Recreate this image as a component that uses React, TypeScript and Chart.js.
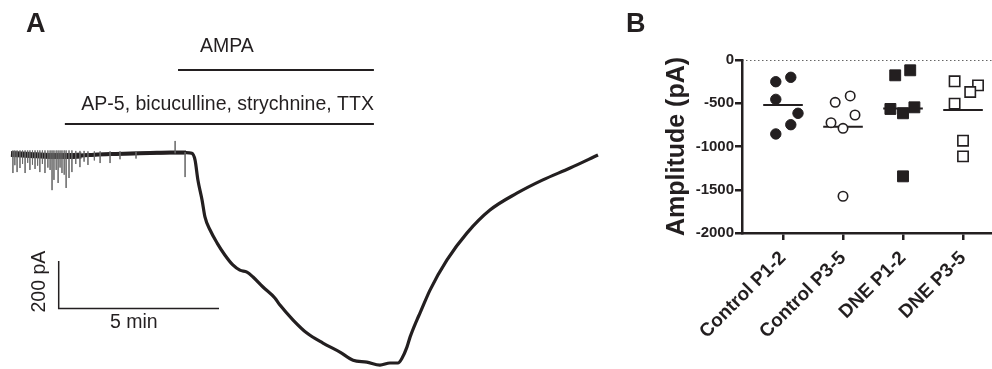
import React, { useEffect, useRef } from 'react';
import { Chart, registerables } from 'chart.js';

Chart.register(...registerables);

const INK = '#231f20';
const FONT = '"Liberation Sans", Arial, Helvetica, sans-serif';

// ---------- Panel A: current trace (time in min, current in pA) ----------
const traceTime = [0, 0.59, 1.22, 1.84, 2.46, 3.09, 3.71, 4.34, 4.96, 5.46, 5.64, 5.74, 5.83, 5.96, 6.05, 6.21, 6.43, 6.67, 6.92, 7.14, 7.36, 7.55, 7.86, 8.23, 8.39, 8.8, 9.23, 9.73, 10.26, 10.67, 11.1, 11.51, 11.82, 12.07, 12.2, 12.35, 12.45, 12.66, 12.76, 13.07, 13.6, 14.22, 14.94, 15.78, 16.59, 17.44, 18.31];
const traceCurrent = [-3, -7, -11, -11, -7, -3, -1, 1, 3, 3, 0, -28, -112, -197, -268, -323, -378, -428, -470, -492, -500, -521, -563, -609, -639, -702, -757, -799, -837, -871, -879, -892, -883, -883, -862, -816, -773, -702, -672, -576, -449, -336, -239, -168, -112, -62, -7];

// noisy baseline band (early part of the recording)
const bandTime = [0, 0.59, 1.22, 1.84, 2.2];
const bandCurrent = [-3, -7, -11, -11, -9];
const band2Time = [2.2, 2.46, 3.09, 3.71, 4.34, 4.96, 5.46];
const band2Current = [-9, -7, -3, -1, 1, 3, 3];

// individual noise deflections
const noiseTime = [0.06, 0.12, 0.19, 0.28, 0.36, 0.44, 0.52, 0.59, 0.67, 0.75, 0.83, 0.9, 0.98, 1.06, 1.15, 1.22, 1.28, 1.34, 1.41, 1.47, 1.53, 1.59, 1.66, 1.72, 1.81, 1.9, 2.02, 2.15, 2.28, 2.4, 2.6, 2.78, 3.09, 3.4, 3.9, 5.43, 5.12];
const noiseHigh = [12, 12, 12, 12, 12, 12, 12, 12, 12, 12, 12, 12, 12, 12, 12, 12, 12, 12, 12, 12, 12, 12, 12, 12, 12, 12, 10, 10, 10, 8, 8, 8, 8, 8, 8, 5, 52];
const noiseLow = [-83, -50, -79, -62, -45, -83, -40, -70, -48, -66, -52, -79, -45, -83, -60, -70, -155, -112, -70, -125, -60, -83, -90, -146, -104, -79, -45, -58, -35, -49, -30, -41, -41, -25, -22, -100, 0];

// drug application bars
const ampaStart = 5.21;
const ampaEnd = 11.32;
const ampaLevel = 351;
const drugStart = 1.68;
const drugEnd = 11.32;
const drugLevel = 123;
const ampaLabel = 'AMPA';
const drugLabel = 'AP-5, bicuculline, strychnine, TTX';

// scale bar
const scaleOriginTime = 1.488;
const scaleOriginCurrent = -653;
const scaleBarTime = 5; // min
const scaleBarCurrent = 200; // pA
const scaleTimeLabel = '5 min';
const scaleCurrentLabel = '200 pA';

// ---------- Panel B: amplitudes ----------
const categories = ['Control P1-2', 'Control P3-5', 'DNE P1-2', 'DNE P3-5'];
const controlP12 = [-200, -251, -455, -616, -748, -855];
const controlP12Jitter = [0.13, -0.12, -0.12, 0.25, 0.13, -0.12];
const controlP35 = [-416, -489, -636, -725, -790, -1575];
const controlP35Jitter = [0.12, -0.13, 0.2, -0.2, 0, 0];
const dneP12 = [-119, -177, -547, -566, -616, -1345];
const dneP12Jitter = [0.12, -0.13, 0.19, -0.21, 0, 0];
const dneP35 = [-246, -293, -370, -505, -933, -1114];
const dneP35Jitter = [-0.14, 0.25, 0.12, -0.14, 0, 0];
const yTicks = [0, -500, -1000, -1500, -2000];

const X_MIN = 0.3167;
const X_MAX = 4.483;
const MEAN_HALF = 0.33;

const mean = (a: number[]) => a.reduce((s, v) => s + v, 0) / a.length;

export default function App() {
  const aRef = useRef<HTMLCanvasElement | null>(null);
  const bRef = useRef<HTMLCanvasElement | null>(null);

  useEffect(() => {
    if (!aRef.current || !bRef.current) return;

    const trace = traceTime.map((t, i) => ({ x: t, y: traceCurrent[i] }));
    const band = bandTime.map((t, i) => ({ x: t, y: bandCurrent[i] }));
    const band2 = band2Time.map((t, i) => ({ x: t, y: band2Current[i] }));
    const noise: { x: number; y: number | null }[] = [];
    noiseTime.forEach((t, i) => {
      noise.push({ x: t, y: noiseHigh[i] }, { x: t, y: noiseLow[i] }, { x: t, y: null });
    });

    const textPluginA = {
      id: 'panelAText',
      afterDraw(chart: any) {
        const { ctx, scales } = chart;
        const x = scales.x;
        const y = scales.y;
        ctx.save();
        ctx.fillStyle = INK;
        ctx.font = `19.5px ${FONT}`;
        ctx.textBaseline = 'alphabetic';
        ctx.textAlign = 'left';
        ctx.fillText(ampaLabel, x.getPixelForValue(ampaStart) + 22, y.getPixelForValue(ampaLevel) - 18);
        ctx.textAlign = 'right';
        ctx.fillText(drugLabel, x.getPixelForValue(drugEnd), y.getPixelForValue(drugLevel) - 14);
        const x0 = x.getPixelForValue(scaleOriginTime);
        const x1 = x.getPixelForValue(scaleOriginTime + scaleBarTime);
        const y0 = y.getPixelForValue(scaleOriginCurrent);
        const y1 = y.getPixelForValue(scaleOriginCurrent + scaleBarCurrent);
        ctx.textAlign = 'center';
        ctx.fillText(scaleTimeLabel, (x0 + x1) / 2 - 5, y0 + 20);
        ctx.save();
        ctx.translate(x0 - 14, (y0 + y1) / 2 - 3);
        ctx.rotate(-Math.PI / 2);
        ctx.fillText(scaleCurrentLabel, 0, 0);
        ctx.restore();
        ctx.font = `bold 27px ${FONT}`;
        ctx.textAlign = 'left';
        ctx.fillText('A', 26, 32);
        ctx.restore();
      },
    };

    const chartA = new Chart(aRef.current, {
      type: 'line',
      data: {
        datasets: [
          {
            data: noise,
            borderColor: '#6a6a6a',
            borderWidth: 0.8,
            pointRadius: 0,
            spanGaps: false,
          },
          {
            data: trace,
            borderColor: INK,
            borderWidth: 3.2,
            pointRadius: 0,
            cubicInterpolationMode: 'monotone',
          },
          {
            data: band,
            borderColor: '#2a2627',
            borderWidth: 6,
            pointRadius: 0,
            cubicInterpolationMode: 'monotone',
          },
          {
            data: band2,
            borderColor: '#2a2627',
            borderWidth: 4,
            pointRadius: 0,
            cubicInterpolationMode: 'monotone',
          },
          {
            data: [{ x: ampaStart, y: ampaLevel }, { x: ampaEnd, y: ampaLevel }],
            borderColor: INK,
            borderWidth: 2,
            pointRadius: 0,
          },
          {
            data: [{ x: drugStart, y: drugLevel }, { x: drugEnd, y: drugLevel }],
            borderColor: INK,
            borderWidth: 2,
            pointRadius: 0,
          },
          {
            data: [
              { x: scaleOriginTime, y: scaleOriginCurrent + scaleBarCurrent },
              { x: scaleOriginTime, y: scaleOriginCurrent },
              { x: scaleOriginTime + scaleBarTime, y: scaleOriginCurrent },
            ],
            borderColor: INK,
            borderWidth: 1.5,
            pointRadius: 0,
            borderJoinStyle: 'miter',
          },
        ] as any,
      },
      options: {
        animation: false,
        responsive: false,
        maintainAspectRatio: false,
        layout: { padding: 0, autoPadding: false },
        plugins: { legend: { display: false }, tooltip: { enabled: false } },
        scales: {
          x: { type: 'linear', display: false, min: -0.343, max: 19.62 },
          y: { type: 'linear', display: false, min: -908.2, max: 645.5 },
        },
      },
      plugins: [textPluginA],
    });

    const groups = [
      { vals: controlP12, jit: controlP12Jitter, style: 'circle', fill: INK, r: 5.2, bw: 1 },
      { vals: controlP35, jit: controlP35Jitter, style: 'circle', fill: '#ffffff', r: 4.7, bw: 1.6 },
      { vals: dneP12, jit: dneP12Jitter, style: 'rect', fill: INK, r: 7.7, bw: 1 },
      { vals: dneP35, jit: dneP35Jitter, style: 'rect', fill: '#ffffff', r: 7.3, bw: 1.6 },
    ];

    const pointSets = groups.map((g, gi) => ({
      type: 'scatter',
      data: g.vals.map((v, i) => ({ x: gi + 1 + g.jit[i], y: v })),
      pointStyle: g.style,
      pointRadius: g.r,
      pointBackgroundColor: g.fill,
      pointBorderColor: INK,
      pointBorderWidth: g.bw,
      showLine: false,
      order: 0,
    }));

    const meanSets = groups.map((g, gi) => {
      const m = mean(g.vals);
      return {
        type: 'line',
        data: [
          { x: gi + 1 - MEAN_HALF, y: m },
          { x: gi + 1 + MEAN_HALF, y: m },
        ],
        borderColor: INK,
        borderWidth: 2,
        pointRadius: 0,
        order: 1,
      };
    });

    const zeroLine = {
      type: 'line',
      data: [
        { x: X_MIN, y: 0 },
        { x: X_MAX, y: 0 },
      ],
      borderColor: '#333',
      borderWidth: 1.5,
      borderDash: [1.5, 2.5],
      pointRadius: 0,
      order: 2,
    };

    const textPluginB = {
      id: 'panelBText',
      afterDraw(chart: any) {
        const { ctx } = chart;
        ctx.save();
        ctx.fillStyle = INK;
        ctx.font = `bold 27px ${FONT}`;
        ctx.textAlign = 'left';
        ctx.textBaseline = 'alphabetic';
        ctx.fillText('B', 26, 32);
        ctx.restore();
      },
    };

    const chartB = new Chart(bRef.current, {
      type: 'scatter',
      data: { datasets: [...pointSets, ...meanSets, zeroLine] as any },
      options: {
        animation: false,
        responsive: false,
        maintainAspectRatio: false,
        layout: { padding: { top: 60, right: 0, bottom: 0, left: 0 }, autoPadding: false },
        plugins: { legend: { display: false }, tooltip: { enabled: false } },
        scales: {
          x: {
            type: 'linear',
            min: X_MIN,
            max: X_MAX,
            afterBuildTicks: (s: any) => {
              s.ticks = categories.map((_, i) => ({ value: i + 1 }));
            },
            afterFit: (s: any) => {
              s.height = 136;
              s.paddingRight = 0;
            },
            ticks: {
              autoSkip: false,
              minRotation: 45,
              maxRotation: 45,
              padding: 7,
              color: INK,
              font: { family: FONT, size: 19, weight: 'bold' },
              callback: (v: any) => categories[Math.round(v) - 1] ?? '',
            },
            grid: { display: true, drawOnChartArea: false, drawTicks: true, tickLength: 7, lineWidth: 2.5, color: INK },
            border: { display: true, color: INK, width: 2.5 },
          },
          y: {
            type: 'linear',
            min: -2000,
            max: 0,
            afterBuildTicks: (s: any) => {
              s.ticks = yTicks.map((v) => ({ value: v }));
            },
            afterFit: (s: any) => {
              s.width = 142;
            },
            ticks: {
              padding: 1,
              color: INK,
              font: { family: FONT, size: 15, weight: 'bold' },
              callback: (v: any) => String(v),
            },
            grid: { display: true, drawOnChartArea: false, drawTicks: true, tickLength: 7, lineWidth: 2.5, color: INK },
            border: { display: true, color: INK, width: 2.5 },
            title: {
              display: true,
              text: 'Amplitude (pA)',
              color: INK,
              font: { family: FONT, size: 25, weight: 'bold' },
              padding: { top: 62, bottom: 0 },
            },
          },
        },
      },
      plugins: [textPluginB],
    });

    return () => {
      chartA.destroy();
      chartB.destroy();
    };
  }, []);

  return (
    <div style={{ position: 'fixed', left: 0, top: 0, width: 992, height: 369, background: '#ffffff', overflow: 'hidden' }}>
      <canvas ref={aRef} width={640} height={369} style={{ position: 'absolute', left: 0, top: 0, width: 640, height: 369 }} />
      <canvas ref={bRef} width={392} height={369} style={{ position: 'absolute', left: 600, top: 0, width: 392, height: 369 }} />
    </div>
  );
}
